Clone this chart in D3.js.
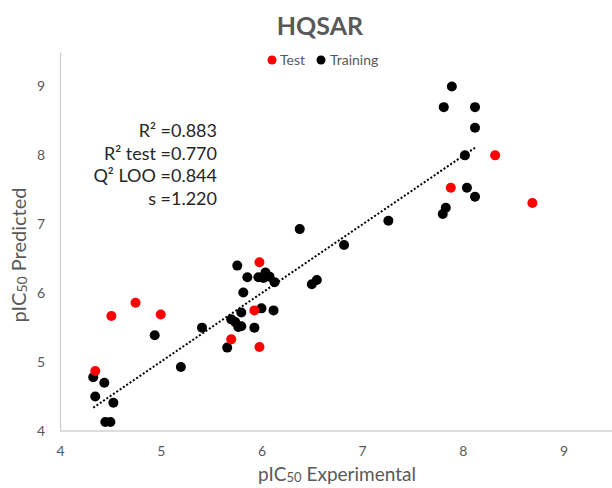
<!DOCTYPE html>
<html>
<head>
<meta charset="utf-8">
<script src="https://cdn.jsdelivr.net/npm/d3@7/dist/d3.min.js"></script>
<style>
  body { margin: 0; background: #fff; }
  svg { display: block; }
  text { font-family: Lato, "Open Sans", sans-serif; }
</style>
</head>
<body>
<svg id="chart" width="612" height="488"></svg>
<script>
// ---- data ----
const trainingX = [4.33,4.35,4.44,4.45,4.50,4.53,4.94,5.20,5.41,5.66,5.70,5.74,5.77,5.80,5.80,5.93,6.00,6.12,5.82,5.76,5.86,5.97,6.04,6.08,6.02,6.13,6.38,6.50,6.55,6.82,7.26,7.80,7.83,7.81,7.89,8.12,8.12,8.02,8.04,8.12];
const trainingY = [4.78,4.50,4.70,4.13,4.13,4.41,5.39,4.93,5.50,5.21,5.62,5.58,5.51,5.52,5.72,5.50,5.78,5.75,6.01,6.40,6.23,6.23,6.30,6.24,6.22,6.16,6.93,6.13,6.19,6.70,7.05,7.15,7.24,8.70,9.00,8.70,8.40,8.00,7.53,7.40];
const testX = [4.35,4.51,4.75,5.00,5.70,5.93,5.98,5.98,7.88,8.32,8.69];
const testY = [4.87,5.67,5.86,5.69,5.33,5.75,5.22,6.45,7.53,8.00,7.31];
const xTicks = [4,5,6,7,8,9];
const yTicks = [4,5,6,7,8,9];
const stats = ["R² =0.883", "R² test =0.770", "Q² LOO =0.844", "s =1.220"];
const seriesNames = ["Test", "Training"];

// ---- layout ----
const svg = d3.select("#chart");
const mLeft = 60, mRight = 614, mTop = 52, mBottom = 431;
const x = d3.scaleLinear().domain([4, 9.5]).range([mLeft, mRight]);
const y = d3.scaleLinear().domain([4, 9.5]).range([mBottom, mTop]);
const grayText = "#595959";
const axisColor = "#d0d0d0";

// axes
const xAxis = d3.axisBottom(x).tickValues(xTicks).tickSize(0).tickPadding(15).tickFormat(d3.format("d"));
const yAxis = d3.axisLeft(y).tickValues(yTicks).tickSize(0).tickPadding(15).tickFormat(d3.format("d"));
const gx = svg.append("g").attr("transform", `translate(0,${mBottom})`).call(xAxis);
const gy = svg.append("g").attr("transform", `translate(${mLeft},0)`).call(yAxis);
[gx, gy].forEach(g => {
  g.select(".domain").attr("stroke", axisColor).attr("stroke-width", 1.3);
  g.selectAll("text").attr("fill", grayText).style("font-size", "14px")
    .style("font-family", "Lato, 'Open Sans', sans-serif");
});
gx.select(".domain").attr("d", `M${mLeft},0H612`);

// trendline (least squares on training set, spanning training x range)
const n = trainingX.length;
const mx = d3.mean(trainingX), my = d3.mean(trainingY);
let sxy = 0, sxx = 0;
for (let i = 0; i < n; i++) { sxy += (trainingX[i]-mx)*(trainingY[i]-my); sxx += (trainingX[i]-mx)**2; }
const slope = sxy / sxx, icpt = my - slope * mx;
const [x0, x1] = d3.extent(trainingX);
svg.append("line")
  .attr("x1", x(x0)).attr("y1", y(icpt + slope*x0))
  .attr("x2", x(x1)).attr("y2", y(icpt + slope*x1))
  .attr("stroke", "#000").attr("stroke-width", 2).attr("stroke-dasharray", "2,2");

// points
const training = trainingX.map((v, i) => ({x: v, y: trainingY[i]}));
const test = testX.map((v, i) => ({x: v, y: testY[i]}));
svg.append("g").selectAll("circle").data(training).join("circle")
  .attr("cx", d => x(d.x)).attr("cy", d => y(d.y)).attr("r", 5).attr("fill", "#000");
svg.append("g").selectAll("circle").data(test).join("circle")
  .attr("cx", d => x(d.x)).attr("cy", d => y(d.y)).attr("r", 5).attr("fill", "#ff0000");

// title
svg.append("text").attr("x", 320).attr("y", 35).attr("text-anchor", "middle")
  .attr("fill", grayText).style("font-size", "25px").style("font-weight", "bold").text("HQSAR");

// legend
const legend = [{name: seriesNames[0], color: "#ff0000", cx: 272, tx: 280},
                {name: seriesNames[1], color: "#000", cx: 321, tx: 330}];
legend.forEach(l => {
  svg.append("circle").attr("cx", l.cx).attr("cy", 60).attr("r", 4.5).attr("fill", l.color);
  svg.append("text").attr("x", l.tx).attr("y", 65).attr("fill", grayText)
    .style("font-size", "14px").text(l.name);
});

// stats annotation
stats.forEach((s, i) => {
  svg.append("text").attr("x", 217).attr("y", 137 + i*22.5).attr("text-anchor", "end")
    .attr("fill", "#262626").style("font-size", "18px").text(s);
});

// axis titles
const xt = svg.append("text").attr("x", 337).attr("y", 481).attr("text-anchor", "middle")
  .attr("fill", grayText).style("font-size", "19px");
xt.append("tspan").text("pIC");
xt.append("tspan").style("font-size", "13px").attr("dy", 1).text("50");
xt.append("tspan").attr("dy", -1).text(" Experimental");

const yt = svg.append("text").attr("transform", "translate(26,255) rotate(-90)").attr("text-anchor", "middle")
  .attr("fill", grayText).style("font-size", "20px");
yt.append("tspan").text("pIC");
yt.append("tspan").style("font-size", "14px").attr("dy", 1).text("50");
yt.append("tspan").attr("dy", -1).text(" Predicted");
</script>
</body>
</html>
